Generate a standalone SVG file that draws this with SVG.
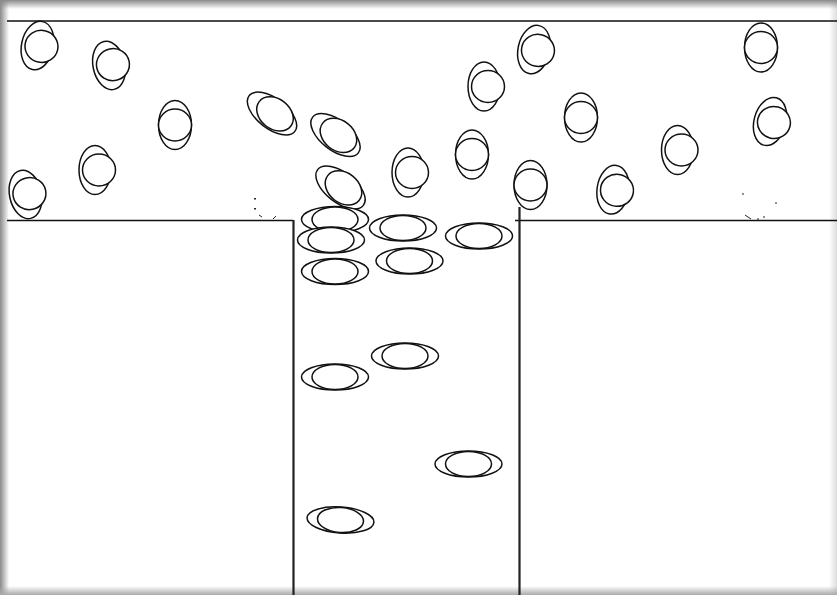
<svg xmlns="http://www.w3.org/2000/svg" width="837" height="595" viewBox="0 0 837 595">
<style>
.w{stroke:#111;stroke-width:1.6;fill:none}
.x{stroke:#222;stroke-width:2.2;fill:none}
.e{stroke:#111;stroke-width:1.5;fill:#fff}
.d{fill:#222}
.f{stroke:#222;stroke-width:1;fill:none}
</style>
<defs>
<linearGradient id="gl" x1="0" x2="1" y1="0" y2="0"><stop offset="0" stop-color="#8a8a8a"/><stop offset="1" stop-color="#8a8a8a" stop-opacity="0"/></linearGradient>
<linearGradient id="gr" x1="1" x2="0" y1="0" y2="0"><stop offset="0" stop-color="#ddd"/><stop offset="1" stop-color="#ddd" stop-opacity="0"/></linearGradient>
<linearGradient id="gt" x1="0" x2="0" y1="0" y2="1"><stop offset="0" stop-color="#8a8a8a"/><stop offset="1" stop-color="#8a8a8a" stop-opacity="0"/></linearGradient>
<linearGradient id="gb" x1="0" x2="0" y1="1" y2="0"><stop offset="0" stop-color="#aaa"/><stop offset="1" stop-color="#aaa" stop-opacity="0"/></linearGradient>
<g id="v"><ellipse class="e" rx="16.500" ry="24.500"/><ellipse class="e" rx="16.500" ry="16"/></g>
<g id="t"><ellipse class="e" cx="-2" rx="16" ry="24.500"/><ellipse class="e" cx="2" rx="16.500" ry="16"/></g>
<g id="s"><ellipse class="e" rx="15" ry="29"/><ellipse class="e" cx="1.500" cy="2.600" rx="15" ry="20"/></g>
<g id="h"><ellipse class="e" rx="33.500" ry="13"/><ellipse class="e" rx="23" ry="12.500"/></g>
</defs>
<rect width="837" height="595" fill="#fff"/>
<rect x="0" y="0" width="9" height="595" fill="url(#gl)"/>
<rect x="829" y="0" width="8" height="595" fill="url(#gr)"/>
<rect x="0" y="0" width="837" height="9" fill="url(#gt)"/>
<rect x="0" y="586" width="837" height="9" fill="url(#gb)"/>
<g id="walls">
<path class="w" d="M7 21H837M7 220.500H293M515 220.500H837"/>
<path class="x" d="M293.500 220V595M519.500 207V595"/>
<rect class="d" x="254" y="198" width="2" height="1.500"/><rect class="d" x="254" y="208" width="2" height="1.500"/><path class="f" d="M259 215l3 2M273 219l3-3M742 194h2M775 203h2M745 215l6 4M757 219h2M763 217h2"/>
</g>
<g id="connectors"></g>
<g id="people">
<g id="p1"><use href="#t" transform="translate(39.500 46) rotate(12)"/></g>
<g id="p2"><use href="#t" transform="translate(111 65) rotate(-12)"/></g>
<g id="p3"><use href="#v" transform="translate(175 125)"/></g>
<g id="p4"><use href="#t" transform="translate(97 170)"/></g>
<g id="p5"><use href="#t" transform="translate(27.500 194) rotate(-12)"/></g>
<g id="p6"><use href="#s" transform="translate(272 113.500) rotate(-52)"/></g>
<g id="p7"><use href="#s" transform="translate(335.500 135) rotate(-52)"/></g>
<g id="p8"><use href="#s" transform="translate(340.500 187.500) rotate(-52)"/></g>
<g id="p9"><use href="#t" transform="translate(410 172.500)"/></g>
<g id="p10"><use href="#v" transform="translate(472 154.500)"/></g>
<g id="p11"><use href="#v" transform="translate(530.500 185)"/></g>
<g id="p12"><use href="#t" transform="translate(486 86.500)"/></g>
<g id="p13"><use href="#t" transform="translate(536 50) rotate(12)"/></g>
<g id="p14"><use href="#v" transform="translate(581 117.500)"/></g>
<g id="p15"><use href="#t" transform="translate(679.500 150)"/></g>
<g id="p16"><use href="#t" transform="translate(615 190) rotate(8)"/></g>
<g id="p17"><use href="#v" transform="translate(761 47.500)"/></g>
<g id="p18"><use href="#t" transform="translate(772 122) rotate(15)"/></g>
<g id="p19"><use href="#h" transform="translate(335 219.500)"/></g>
<g id="p20"><use href="#h" transform="translate(331 240)"/></g>
<g id="p21"><use href="#h" transform="translate(335 271.500)"/></g>
<g id="p22"><use href="#h" transform="translate(403 228)"/></g>
<g id="p23"><use href="#h" transform="translate(479 236)"/></g>
<g id="p24"><use href="#h" transform="translate(409.500 261)"/></g>
<g id="p25"><use href="#h" transform="translate(405 356)"/></g>
<g id="p26"><use href="#h" transform="translate(335 377)"/></g>
<g id="p27"><use href="#h" transform="translate(468.500 464)"/></g>
<g id="p28"><use href="#h" transform="translate(340.500 520) rotate(4)"/></g>
</g>
</svg>
